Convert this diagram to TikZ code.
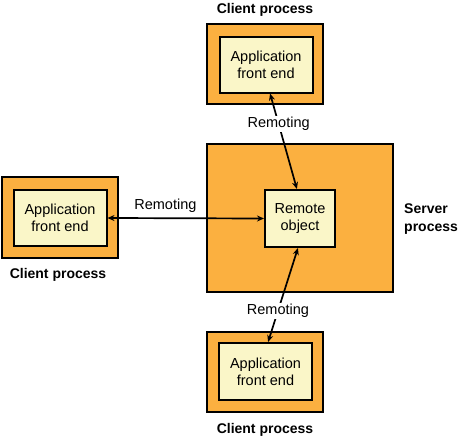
\documentclass[tikz,border=0pt]{standalone}
\usepackage{fontspec}
\setmainfont{Liberation Sans}
\usetikzlibrary{arrows.meta}
\definecolor{procorange}{RGB}{251,176,64}
\definecolor{appyellow}{RGB}{250,246,200}

\begin{document}
\begin{tikzpicture}[x=1pt,y=-1pt,>={Stealth[length=7pt,width=6pt]},
  proc/.style={draw,line width=2pt,fill=procorange,minimum width=116pt,minimum height=80pt},
  app/.style={draw,line width=2pt,fill=appyellow,align=center,inner sep=0pt,
    minimum width=93pt,minimum height=56pt,font=\fontsize{14.5}{17}\selectfont},
  lbl/.style={font=\bfseries\fontsize{14}{18}\selectfont},
  link/.style={<->,line width=1.7pt},
  remo/.style={fill=white,inner sep=1.5pt,font=\fontsize{14.5}{17}\selectfont}]
  \useasboundingbox (0,0) rectangle (458,439);
  % server process with the remote object
  \node[proc,minimum width=186pt,minimum height=148pt] (server) at (300,218) {};
  \node[app,minimum width=70pt,minimum height=57pt] (remote) at (300,218.5) {Remote\\object};
  \node[lbl,anchor=west,align=left,inner sep=0pt] (serverlbl) at (404,219) {Server\\process};
  % client processes
  \node[proc] (topclient) at (265,64) {};
  \node[app] (topapp) at (266,64.5) {Application\\front end};
  \node[lbl] (toplbl) at (265,10) {Client process};
  \node[proc,minimum height=81pt] (leftclient) at (60,217.5) {};
  \node[app] (leftapp) at (60,218) {Application\\front end};
  \node[lbl] (leftlbl) at (58,275) {Client process};
  \node[proc] (botclient) at (265,372) {};
  \node[app,minimum height=57pt] (botapp) at (265.5,371.5) {Application\\front end};
  \node[lbl] (botlbl) at (265,430) {Client process};
  % remoting links
  \draw[link] (leftapp.east) -- node[remo,fill=none,pos=0.37,above=3pt] (remoleft) {Remoting} (remote.west);
  \draw[link] (topapp.-82) -- node[remo,pos=0.32] (remotop) {Remoting} (remote.96);
  \draw[link] (remote.-94) -- node[remo,pos=0.67] (remobot) {Remoting} (botapp.85);
\end{tikzpicture}
\end{document}
